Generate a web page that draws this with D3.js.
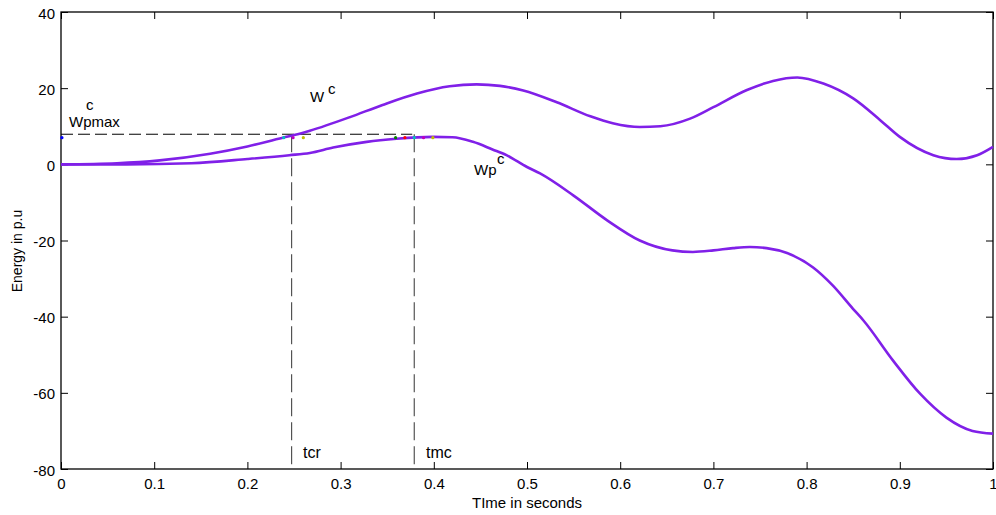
<!DOCTYPE html>
<html>
<head>
<meta charset="utf-8">
<script src="https://cdn.jsdelivr.net/npm/d3@7.9.0/dist/d3.min.js"></script>
<style>
  body { margin: 0; background: #fff; }
  svg { display: block; font-family: Arial, "Liberation Sans", sans-serif; }
</style>
</head>
<body>
<svg id="chart" width="996" height="515"></svg>
<script>
// ---- data ----
const timeW = [0, 0.06, 0.106, 0.16, 0.2, 0.238, 0.256, 0.267, 0.31, 0.345, 0.382, 0.417, 0.446,
  0.471, 0.496, 0.532, 0.568, 0.592, 0.621, 0.643, 0.675, 0.7, 0.736, 0.764, 0.79, 0.818,
  0.85, 0.879, 0.9, 0.936, 0.961, 0.983, 1.0];
const energyW = [0, 0.3, 1.05, 2.8, 4.7, 7.0, 8.0, 8.8, 12.4, 15.6, 18.6, 20.5, 21.0,
  20.6, 19.4, 16.3, 12.6, 10.8, 9.8, 10.0, 12.0, 15.0, 19.5, 21.9, 22.8, 21.2,
  17.3, 11.6, 7.2, 2.4, 1.4, 2.4, 4.6];

const timeWp = [0, 0.07, 0.14, 0.2, 0.245, 0.267, 0.292, 0.328, 0.36, 0.399, 0.42, 0.442,
  0.463, 0.478, 0.5, 0.514, 0.55, 0.586, 0.621, 0.656, 0.678, 0.7, 0.721, 0.739, 0.757,
  0.779, 0.807, 0.828, 0.85, 0.861, 0.893, 0.922, 0.95, 0.978, 1.0];
const energyWp = [0, 0, 0.3, 1.4, 2.4, 3.0, 4.4, 5.9, 6.7, 7.2, 7.1, 5.9,
  3.9, 2.4, -0.7, -2.4, -8.2, -14.7, -20.0, -22.6, -23.0, -22.6, -22.0, -21.7, -22.0,
  -23.3, -27.1, -31.8, -38.0, -41.0, -51.6, -60.3, -66.5, -70.0, -70.7];

// critical values
const wpMax = 7.9;
const tcr = 0.2475;
const tmc = 0.379;

// small coloured markers near the crossings
const markerTimes = [0.001, 0.239, 0.249, 0.26, 0.359, 0.369, 0.379, 0.389, 0.399];
const markerColors = ["#0000ff", "#00bfbf", "#bf00bf", "#bfbf00", "#008000", "#ff0000", "#00bfbf", "#bf00bf", "#bfbf00"];
const markerEnergy = 7.0;

const xTicks = [0, 0.1, 0.2, 0.3, 0.4, 0.5, 0.6, 0.7, 0.8, 0.9, 1];
const yTicks = [-80, -60, -40, -20, 0, 20, 40];

// ---- layout ----
const svg = d3.select("#chart");
const plotL = 61, plotR = 993, plotT = 12, plotB = 469;
const lineColor = "#8020e8";

const x = d3.scaleLinear().domain([0, 1]).range([plotL, plotR]);
const y = d3.scaleLinear().domain([-80, 40]).range([plotB, plotT]);

// axes (ticks pointing inward, box style)
const fmtX = d => d === 0 || d === 1 ? String(d) : d.toFixed(1);

svg.append("g")
  .attr("transform", `translate(0,${plotB})`)
  .call(d3.axisBottom(x).tickValues(xTicks).tickFormat(fmtX).tickSize(-7).tickPadding(9))
  .call(g => g.select(".domain").remove())
  .call(g => g.selectAll("text").style("font-size", "15px").attr("fill", "#000"));

svg.append("g")
  .attr("transform", `translate(${plotL},0)`)
  .call(d3.axisLeft(y).tickValues(yTicks).tickFormat(d => String(d)).tickSize(-7).tickPadding(6))
  .call(g => g.select(".domain").remove())
  .call(g => g.selectAll("text").style("font-size", "15px").attr("fill", "#000").attr("dy", "0.40em"));

svg.append("g")
  .attr("transform", `translate(0,${plotT})`)
  .call(d3.axisTop(x).tickValues(xTicks).tickSize(-7).tickFormat(""))
  .call(g => g.select(".domain").remove());

svg.append("g")
  .attr("transform", `translate(${plotR},0)`)
  .call(d3.axisRight(y).tickValues(yTicks).tickSize(-7).tickFormat(""))
  .call(g => g.select(".domain").remove());

svg.append("rect")
  .attr("x", plotL).attr("y", plotT)
  .attr("width", plotR - plotL).attr("height", plotB - plotT)
  .attr("fill", "none").attr("stroke", "#000").attr("stroke-width", 1.3);

// dashed guide lines
svg.append("line")
  .attr("x1", x(0)).attr("x2", x(tmc) - 2)
  .attr("y1", y(wpMax)).attr("y2", y(wpMax))
  .attr("stroke", "#000").attr("stroke-dasharray", "12,5");
[tcr, tmc].forEach(t => {
  svg.append("line")
    .attr("x1", x(t)).attr("x2", x(t))
    .attr("y1", y(wpMax)).attr("y2", y(-80))
    .attr("stroke", "#333").attr("stroke-dasharray", "18,6");
});

// curves
const line = d3.line()
  .x(d => x(d[0]))
  .y(d => y(d[1]))
  .curve(d3.curveMonotoneX);

svg.append("path")
  .datum(d3.zip(timeW, energyW))
  .attr("d", line)
  .attr("fill", "none").attr("stroke", lineColor).attr("stroke-width", 2.6);

svg.append("path")
  .datum(d3.zip(timeWp, energyWp))
  .attr("d", line)
  .attr("fill", "none").attr("stroke", lineColor).attr("stroke-width", 2.6);

// markers
svg.selectAll("circle.mk")
  .data(d3.zip(markerTimes, markerColors))
  .enter().append("circle")
  .attr("class", "mk")
  .attr("cx", d => x(d[0]))
  .attr("cy", y(markerEnergy))
  .attr("r", 1.6)
  .attr("fill", d => d[1]);

// annotations
const ann = svg.append("g").style("font-size", "15px").attr("fill", "#000");
ann.append("text").attr("x", 310).attr("y", 102).text("W");
ann.append("text").attr("x", 328).attr("y", 94).text("c");
ann.append("text").attr("x", 69).attr("y", 127).text("Wpmax");
ann.append("text").attr("x", 86).attr("y", 110).text("c");
ann.append("text").attr("x", 474).attr("y", 175).text("Wp");
ann.append("text").attr("x", 497).attr("y", 164).text("c");
ann.append("text").attr("x", 303).attr("y", 458).style("font-size", "16px").text("tcr");
ann.append("text").attr("x", 426).attr("y", 458).style("font-size", "16px").text("tmc");

// axis titles
svg.append("text")
  .attr("x", (plotL + plotR) / 2).attr("y", 508)
  .attr("text-anchor", "middle").style("font-size", "15px")
  .text("TIme in seconds");

svg.append("text")
  .attr("transform", "translate(22,251) rotate(-90)")
  .attr("text-anchor", "middle").style("font-size", "14px")
  .text("Energy in p.u");
</script>
</body>
</html>
